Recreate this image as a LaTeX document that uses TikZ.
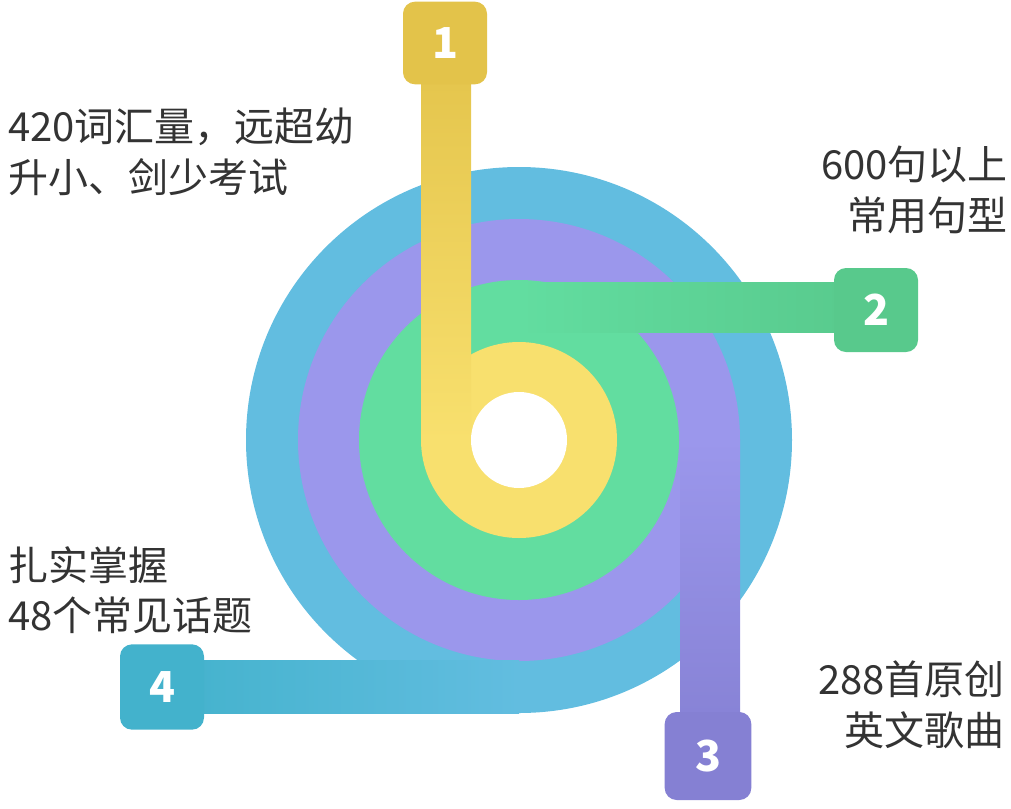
\documentclass[tikz,border=0pt]{standalone}
\usepackage{fontspec}
\setmainfont{Noto Sans CJK SC}
\definecolor{cblue}{HTML}{62BDE0}
\definecolor{cpurple}{HTML}{9B97EC}
\definecolor{cgreen}{HTML}{62DDA0}
\definecolor{cyellow}{HTML}{F8E06E}
\definecolor{dyellow}{HTML}{E3C34A}
\definecolor{dgreen}{HTML}{58C98C}
\definecolor{dpurple}{HTML}{8580D3}
\definecolor{dblue}{HTML}{43B2CC}
\definecolor{txt}{HTML}{333333}
\begin{document}
\begin{tikzpicture}[x=0.75pt,y=-0.75pt,
  numbox/.style={rounded corners=9pt,text=white,font=\fontsize{32}{32}\selectfont\bfseries,inner sep=0pt},
  lbl/.style={text=txt,font=\fontsize{30}{38}\selectfont,inner sep=0pt}]
\useasboundingbox (0,0) rectangle (1011,808);
\coordinate (c) at (519,440);
\fill[cblue] (c) circle (273);
\fill[cpurple] (c) circle (221);
\fill[cgreen] (c) circle (160);
\fill[cyellow] (c) circle (98);
% blue bar
\shade[left color=dblue,right color=cblue] (162,660) rectangle (519,713);
\node[numbox,fill=dblue,minimum width=63pt,minimum height=64pt] (b4) at (162,687) {4};
% purple bar
\shade[top color=cpurple,bottom color=dpurple] (680,440) rectangle (740,756);
\node[numbox,fill=dpurple,minimum width=65pt,minimum height=66pt] (b3) at (708,756) {3};
% green bar
\shade[left color=cgreen,right color=dgreen] (519,282) rectangle (876,332);
\node[numbox,fill=dgreen,minimum width=63pt,minimum height=63pt] (b2) at (876,310) {2};
% yellow bar
\shade[top color=dyellow,bottom color=cyellow] (421,43) rectangle (471,440);
\node[numbox,fill=dyellow,minimum width=63pt,minimum height=62pt] (b1) at (445,43) {1};
\fill[white] (c) circle (48);
\node[lbl,anchor=west,align=left] (t1) at (8,152) {420词汇量，远超幼\\升小、剑少考试};
\node[lbl,anchor=east,align=right] (t2) at (1008,190) {600句以上\\常用句型};
\node[lbl,anchor=east,align=right] (t3) at (1005,705) {288首原创\\英文歌曲};
\node[lbl,anchor=west,align=left] (t4) at (8,590) {扎实掌握\\48个常见话题};
\end{tikzpicture}
\end{document}
